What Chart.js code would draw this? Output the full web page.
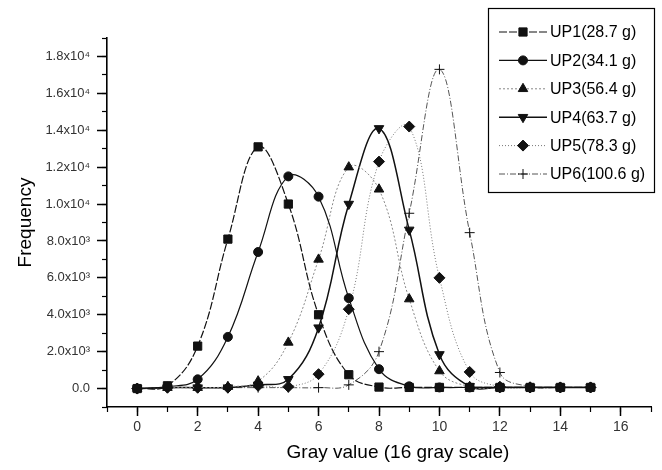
<!DOCTYPE html>
<html>
<head>
<meta charset="utf-8">
<script src="https://cdn.jsdelivr.net/npm/chart.js@4.4.1/dist/chart.umd.min.js"></script>
<style>
  html, body { margin: 0; padding: 0; background: #fff; }
</style>
</head>
<body>
<canvas id="graph" width="662" height="470"></canvas>
<script>
// gray levels on the x axis
const grayValues = [0, 1, 2, 3, 4, 5, 6, 7, 8, 9, 10, 11, 12, 13, 14, 15];

// frequency of each gray level
const up1 = [0, 150, 2300, 8100, 13100, 10000, 4000, 750, 80, 60, 60, 60, 60, 60, 60, 60];
const up2 = [0, 100, 500, 2800, 7400, 11500, 10400, 4900, 1050, 120, 60, 60, 60, 60, 60, 60];
const up3 = [0, 50, 50, 100, 400, 2500, 7000, 12000, 10800, 4850, 950, 100, 60, 60, 60, 60];
const up4 = [0, 50, 50, 50, 200, 500, 3300, 10000, 14100, 8600, 1850, 120, 60, 60, 60, 60];
const up5 = [0, 50, 50, 50, 150, 100, 780, 4300, 12300, 14200, 6000, 900, 100, 60, 60, 60];
const up6 = [0, 50, 50, 50, 50, 50, 50, 200, 2000, 9500, 17300, 8450, 870, 100, 60, 60];

const seriesNames = ["UP1(28.7 g)", "UP2(34.1 g)", "UP3(56.4 g)", "UP4(63.7 g)", "UP5(78.3 g)", "UP6(100.6 g)"];

const xTickValues = [0, 2, 4, 6, 8, 10, 12, 14, 16];
const xTickLabels = ["0", "2", "4", "6", "8", "10", "12", "14", "16"];
const yTickValues = [0, 2000, 4000, 6000, 8000, 10000, 12000, 14000, 16000, 18000];
const yTickLabels = ["0.0", "2.0x10³", "4.0x10³", "6.0x10³", "8.0x10³", "1.0x10⁴", "1.2x10⁴", "1.4x10⁴", "1.6x10⁴", "1.8x10⁴"];

const FONT = "'Liberation Sans', Arial, sans-serif";
Chart.defaults.font.family = FONT;

function points(values) {
    let pts = [];
    for (let i = 0; i < grayValues.length; i++) {
        pts.push({ x: grayValues[i], y: values[i] });
    }
    return pts;
}

function serie(label, values, color, dash, width, style, radius, rotation) {
    return {
        label: label,
        data: points(values),
        borderColor: color,
        borderDash: dash,
        borderWidth: width,
        tension: 0.4,
        fill: false,
        pointStyle: style,
        pointRadius: radius,
        pointRotation: rotation,
        pointBackgroundColor: "#111",
        pointBorderColor: "#111",
        pointBorderWidth: 1,
        xAxisID: "x",
        yAxisID: "y"
    };
}

// legend box drawn in the upper right, and the x title
const extras = {
    id: "extras",
    afterDraw(chart) {
        const ctx = chart.ctx;
        ctx.save();
        ctx.strokeStyle = "#000";
        ctx.lineWidth = 1.2;
        ctx.setLineDash([]);
        ctx.strokeRect(488.5, 8.5, 166, 184);

        chart.data.datasets.forEach((ds, i) => {
            const y = 32 + i * 28.4;
            ctx.strokeStyle = ds.borderColor;
            ctx.lineWidth = ds.borderWidth;
            ctx.setLineDash(ds.borderDash);
            ctx.beginPath();
            ctx.moveTo(499, y);
            ctx.lineTo(547, y);
            ctx.stroke();
            ctx.setLineDash([]);
            ctx.fillStyle = ds.pointBackgroundColor;
            ctx.strokeStyle = ds.pointBorderColor;
            ctx.lineWidth = ds.pointBorderWidth;
            Chart.helpers.drawPoint(ctx, {
                pointStyle: ds.pointStyle,
                radius: ds.pointRadius,
                rotation: ds.pointRotation,
                borderWidth: 1
            }, 523, y);
            ctx.fillStyle = "#000";
            ctx.font = "16px " + FONT;
            ctx.textBaseline = "middle";
            ctx.textAlign = "left";
            ctx.fillText(seriesNames[i], 550, y + 1);
        });

        ctx.fillStyle = "#000";
        ctx.font = "19px " + FONT;
        ctx.textAlign = "center";
        ctx.textBaseline = "middle";
        ctx.fillText("Gray value (16 gray scale)", 398, 453);
        ctx.restore();
    }
};

const ctx = document.getElementById("graph").getContext("2d");

new Chart(ctx, {
    type: "line",
    data: {
        datasets: [
            serie(seriesNames[0], up1, "#111", [8, 2], 1.2, "rect", 5.8, 0),
            serie(seriesNames[1], up2, "#111", [], 1.2, "circle", 4.5, 0),
            serie(seriesNames[2], up3, "#888", [2, 2], 1, "triangle", 5.5, 0),
            serie(seriesNames[3], up4, "#111", [], 1.5, "triangle", 5.5, 180),
            serie(seriesNames[4], up5, "#777", [1, 2], 1, "rectRot", 5.5, 0),
            serie(seriesNames[5], up6, "#555", [6, 2, 1, 2], 1, "cross", 5, 0)
        ]
    },
    options: {
        responsive: false,
        animation: false,
        devicePixelRatio: 1,
        layout: { padding: { top: 38, right: 11, left: 0, bottom: 0 } },
        plugins: {
            legend: { display: false },
            tooltip: { enabled: false }
        },
        scales: {
            x: {
                type: "linear",
                position: "bottom",
                min: -1,
                max: 17,
                weight: 0,
                afterBuildTicks: s => { s.ticks = xTickValues.map(v => ({ value: v })); },
                afterFit: s => { s.height = 63; },
                ticks: {
                    autoSkip: false,
                    maxRotation: 0,
                    color: "#333",
                    font: { size: 14 },
                    padding: 3,
                    callback: (v, i) => xTickLabels[i]
                },
                grid: { drawOnChartArea: false, tickLength: 9, tickColor: "#000", tickWidth: 1.5 },
                border: { display: true, color: "#000", width: 1.6 },
                title: { display: false }
            },
            xMinor: {
                type: "linear",
                axis: "x",
                position: "bottom",
                min: -1,
                max: 17,
                weight: -1,
                afterFit: s => { s.height = 0; },
                ticks: { display: false, stepSize: 1 },
                grid: { drawOnChartArea: false, tickLength: 5, tickColor: "#000", tickWidth: 1.2 },
                border: { display: false }
            },
            y: {
                type: "linear",
                position: "left",
                min: -1000,
                max: 19000,
                weight: 0,
                afterBuildTicks: s => { s.ticks = yTickValues.map(v => ({ value: v })); },
                afterFit: s => { s.width = 107; },
                ticks: {
                    autoSkip: false,
                    color: "#333",
                    font: { size: 13 },
                    padding: 7,
                    callback: (v, i) => yTickLabels[i]
                },
                grid: { drawOnChartArea: false, tickLength: 10, tickColor: "#000", tickWidth: 1.5 },
                border: { display: true, color: "#000", width: 1.6 },
                title: {
                    display: true,
                    text: "Frequency",
                    color: "#000",
                    font: { size: 19 },
                    padding: { top: 14 }
                }
            },
            yMinor: {
                type: "linear",
                axis: "y",
                position: "left",
                min: -1000,
                max: 19000,
                weight: -1,
                afterFit: s => { s.width = 0; },
                ticks: { display: false, stepSize: 1000 },
                grid: { drawOnChartArea: false, tickLength: 5, tickColor: "#000", tickWidth: 1.2 },
                border: { display: false }
            }
        }
    },
    plugins: [extras]
});
</script>
</body>
</html>
